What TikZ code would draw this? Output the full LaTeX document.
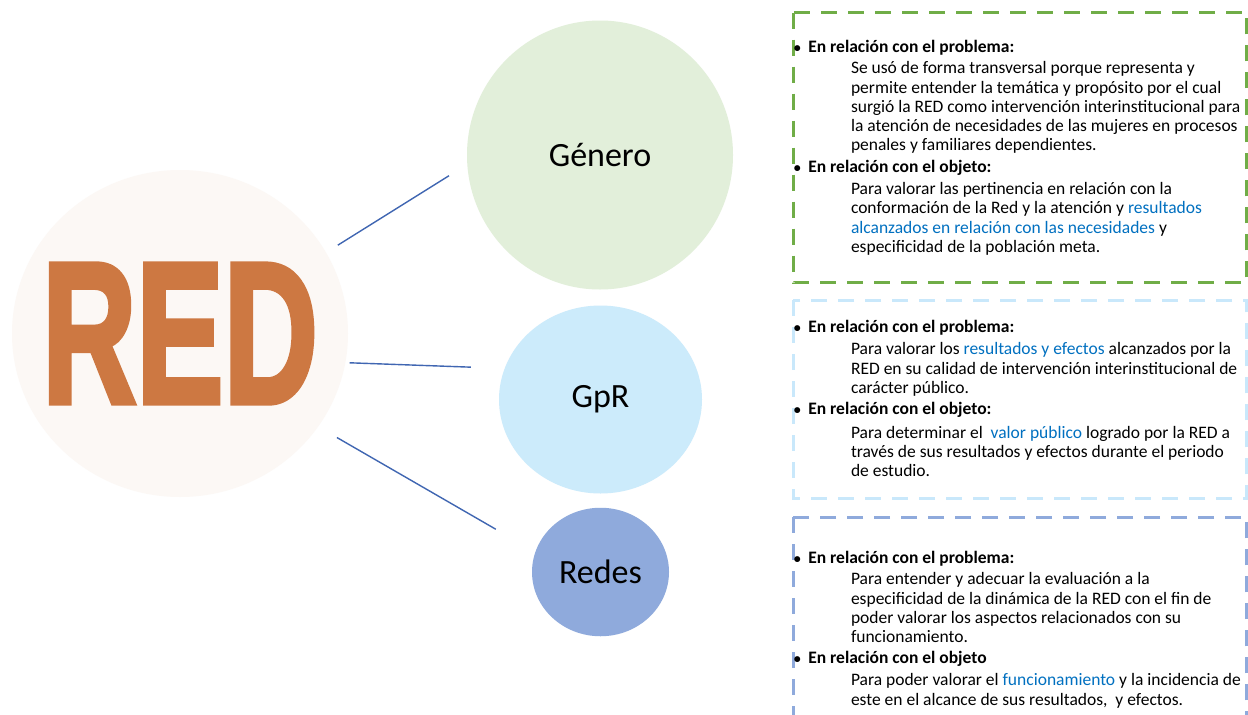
\documentclass[tikz,border=0pt]{standalone}
\usepackage{fontspec}
\setmainfont{Carlito}
\newfontface\redfont[FakeBold=3]{Liberation Sans Bold}
\usetikzlibrary{shapes.geometric}
\definecolor{redtxt}{HTML}{CD7842}
\definecolor{redfill}{HTML}{FCF8F5}
\definecolor{genfill}{HTML}{E2EFDA}
\definecolor{gprfill}{HTML}{CCEBFB}
\definecolor{redesfill}{HTML}{8FAADC}
\definecolor{linkc}{HTML}{4066B2}
\definecolor{gbox}{HTML}{70AD47}
\definecolor{bbox}{HTML}{C9E8FB}
\definecolor{dbox}{HTML}{8FAADC}
\definecolor{hl}{HTML}{0070C0}
\begin{document}
\begin{tikzpicture}[x=1pt,y=-1pt,
  topic/.style={ellipse, inner sep=0pt, outer sep=0pt, font=\fontsize{34}{40}\selectfont},
  link/.style={draw=linkc, line width=1.4pt},
  infobox/.style={line width=3pt, dash pattern=on 16pt off 11pt},
  head/.style={anchor=north west, inner sep=0pt, outer sep=0pt, font=\fontsize{17.5}{19.25}\selectfont\bfseries, align=left},
  body/.style={anchor=north west, inner sep=0pt, outer sep=0pt, font=\fontsize{17.5}{19.25}\selectfont, align=left}]
\clip (0,0) rectangle (1248,715);
\fill[white] (0,0) rectangle (1248,715);

% central node
\node[ellipse, fill=redfill, minimum width=336pt, minimum height=327pt, inner sep=0pt, outer sep=0pt]
  (red) at (180,333.5) {};
\node[inner sep=0pt, outer sep=0pt, text=redtxt] (redlabel) at (red.center)
  {\scalebox{0.65}[1]{\redfont\fontsize{201}{201}\selectfont RED}};

% topic nodes
\node[topic, fill=genfill, minimum width=266pt, minimum height=269pt] (gen) at (600,155) {Género};
\node[topic, fill=gprfill, minimum width=203pt, minimum height=188pt] (gpr) at (600.5,399.5) {GpR};
\node[topic, fill=redesfill, minimum width=137pt, minimum height=128.5pt] (redes) at (600.5,572) {Redes};

% connectors
\draw[link, shorten <=14pt, shorten >=21.6pt] (red.29) -- (gen.184);
\draw[link, shorten <=4.4pt, shorten >=33.8pt] (red.-10) -- (gpr.162.5);
\draw[link, shorten <=21.8pt, shorten >=45.7pt] (red.-34) -- (redes.163);

% boxes
\draw[infobox, draw=gbox] (793.3,12.5) rectangle (1246.7,282.7);
\draw[infobox, draw=bbox] (793.3,300) rectangle (1246.7,498);
\draw[infobox, draw=dbox] (793.3,517) rectangle (1246.7,760);

% box 1
\node[head] (b1h1) at (797.3,38.8) {\strut\makebox[0pt]{\fontsize{14}{14}\selectfont•}\hspace{11pt}En relación con el problema:};
\node[body] (b1t1) at (851,60.5) {\strut Se usó de forma transversal porque representa y\\
permite entender la temática y propósito por el cual\\
surgió la RED como intervención interinstitucional para\\
la atención de necesidades de las mujeres en procesos\\
penales y familiares dependientes.};
\node[head] (b1h2) at (797.3,158.8) {\strut\makebox[0pt]{\fontsize{14}{14}\selectfont•}\hspace{11pt}En relación con el objeto:};
\node[body] (b1t2) at (851,181.2) {\strut Para valorar las pertinencia en relación con la\\
conformación de la Red y la atención y {\color{hl}resultados}\\
{\color{hl}alcanzados en relación con las necesidades} y\\
especificidad de la población meta.};

% box 2
\node[head] (b2h1) at (797.3,318.8) {\strut\makebox[0pt]{\fontsize{14}{14}\selectfont•}\hspace{11pt}En relación con el problema:};
\node[body] (b2t1) at (851,341.5) {\strut Para valorar los {\color{hl}resultados y efectos} alcanzados por la\\
RED en su calidad de intervención interinstitucional de\\
carácter público.};
\node[head] (b2h2) at (797.3,401.5) {\strut\makebox[0pt]{\fontsize{14}{14}\selectfont•}\hspace{11pt}En relación con el objeto:};
\node[body] (b2t2) at (851,424.8) {\strut Para determinar el \ {\color{hl}valor público} logrado por la RED a\\
través de sus resultados y efectos durante el periodo\\
de estudio.};

% box 3
\node[head] (b3h1) at (797.3,549.8) {\strut\makebox[0pt]{\fontsize{14}{14}\selectfont•}\hspace{11pt}En relación con el problema:};
\node[body] (b3t1) at (851,571.5) {\strut Para entender y adecuar la evaluación a la\\
especificidad de la dinámica de la RED con el fin de\\
poder valorar los aspectos relacionados con su\\
funcionamiento.};
\node[head] (b3h2) at (797.3,649.8) {\strut\makebox[0pt]{\fontsize{14}{14}\selectfont•}\hspace{11pt}En relación con el objeto};
\node[body] (b3t2) at (851,672.5) {\strut Para poder valorar el {\color{hl}funcionamiento} y la incidencia de\\
este en el alcance de sus resultados, \ y efectos.};
\end{tikzpicture}
\end{document}
